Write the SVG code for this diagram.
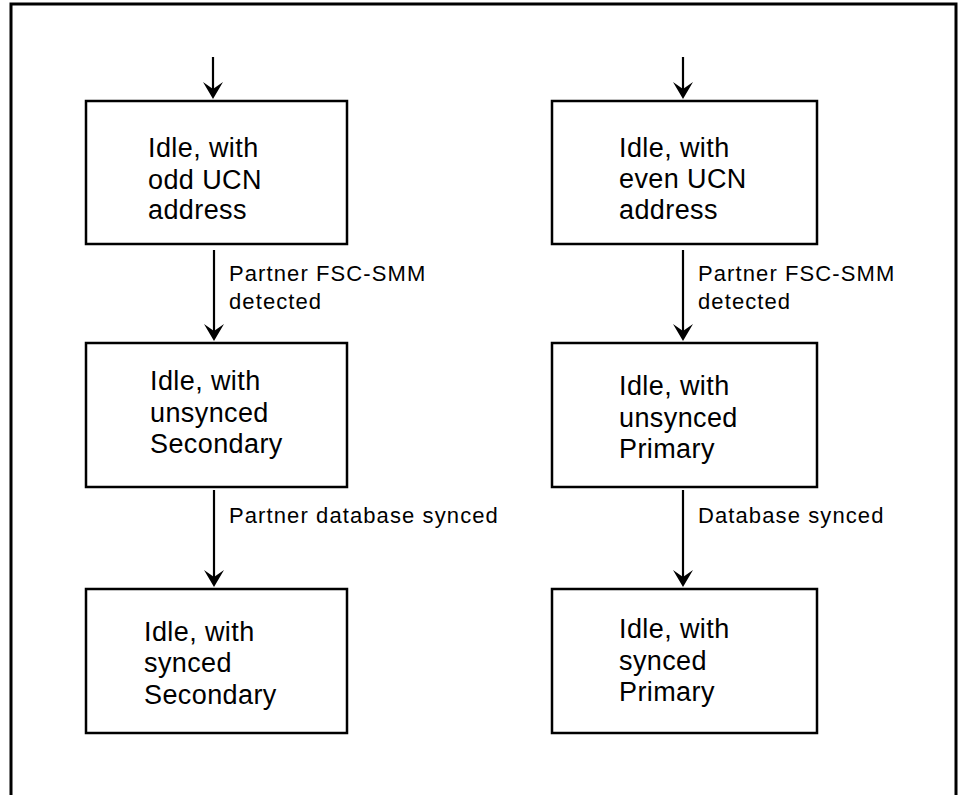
<svg xmlns="http://www.w3.org/2000/svg" width="962" height="795" viewBox="0 0 962 795">
<style>
.box{fill:#fff;stroke:#000;stroke-width:2.5}
.t{font-family:"Liberation Sans",Arial,sans-serif;font-size:27px;letter-spacing:0.4px;fill:#000}
.l{font-family:"Liberation Sans",Arial,sans-serif;font-size:22px;letter-spacing:1.1px;fill:#000}
.c{stroke:#000;stroke-width:2.2;fill:none}
.h{fill:#000}
</style>
<rect x="0" y="0" width="962" height="795" fill="#fff"/>
<path d="M11,800 V4 H956 V800" fill="none" stroke="#000" stroke-width="3"/>
<g id="connectors">
<line class="c" x1="213" y1="57" x2="213" y2="92"/>
<line class="c" x1="683" y1="57" x2="683" y2="92"/>
<line class="c" x1="214" y1="250" x2="214" y2="334"/>
<line class="c" x1="683" y1="250" x2="683" y2="334"/>
<line class="c" x1="214" y1="490" x2="214" y2="580"/>
<line class="c" x1="683" y1="490" x2="683" y2="580"/>
<path class="h" d="M203,82 L213,89 L223,82 L213,99 Z"/>
<path class="h" d="M673,82 L683,89 L693,82 L683,99 Z"/>
<path class="h" d="M204,324 L214,331 L224,324 L214,341 Z"/>
<path class="h" d="M673,324 L683,331 L693,324 L683,341 Z"/>
<path class="h" d="M204,570 L214,577 L224,570 L214,587 Z"/>
<path class="h" d="M673,570 L683,577 L693,570 L683,587 Z"/>
<text class="l" x="229" y="281">Partner FSC-SMM</text>
<text class="l" x="229" y="309">detected</text>
<text class="l" x="698" y="281">Partner FSC-SMM</text>
<text class="l" x="698" y="309">detected</text>
<text class="l" x="229" y="523">Partner database synced</text>
<text class="l" x="698" y="523">Database synced</text>
</g>
<g id="n1">
<rect class="box" x="86" y="101" width="261" height="143"/>
<text class="t" x="148" y="157">Idle, with</text>
<text class="t" x="148" y="189">odd UCN</text>
<text class="t" x="148" y="219">address</text>
</g>
<g id="n2">
<rect class="box" x="86" y="343" width="261" height="144"/>
<text class="t" x="150" y="390">Idle, with</text>
<text class="t" x="150" y="422">unsynced</text>
<text class="t" x="150" y="453">Secondary</text>
</g>
<g id="n3">
<rect class="box" x="86" y="589" width="261" height="144"/>
<text class="t" x="144" y="641">Idle, with</text>
<text class="t" x="144" y="672">synced</text>
<text class="t" x="144" y="704">Secondary</text>
</g>
<g id="n4">
<rect class="box" x="552" y="101" width="265" height="143"/>
<text class="t" x="619" y="157">Idle, with</text>
<text class="t" x="619" y="188">even UCN</text>
<text class="t" x="619" y="219">address</text>
</g>
<g id="n5">
<rect class="box" x="552" y="343" width="265" height="144"/>
<text class="t" x="619" y="395">Idle, with</text>
<text class="t" x="619" y="427">unsynced</text>
<text class="t" x="619" y="458">Primary</text>
</g>
<g id="n6">
<rect class="box" x="552" y="589" width="265" height="144"/>
<text class="t" x="619" y="638">Idle, with</text>
<text class="t" x="619" y="670">synced</text>
<text class="t" x="619" y="701">Primary</text>
</g>
</svg>
